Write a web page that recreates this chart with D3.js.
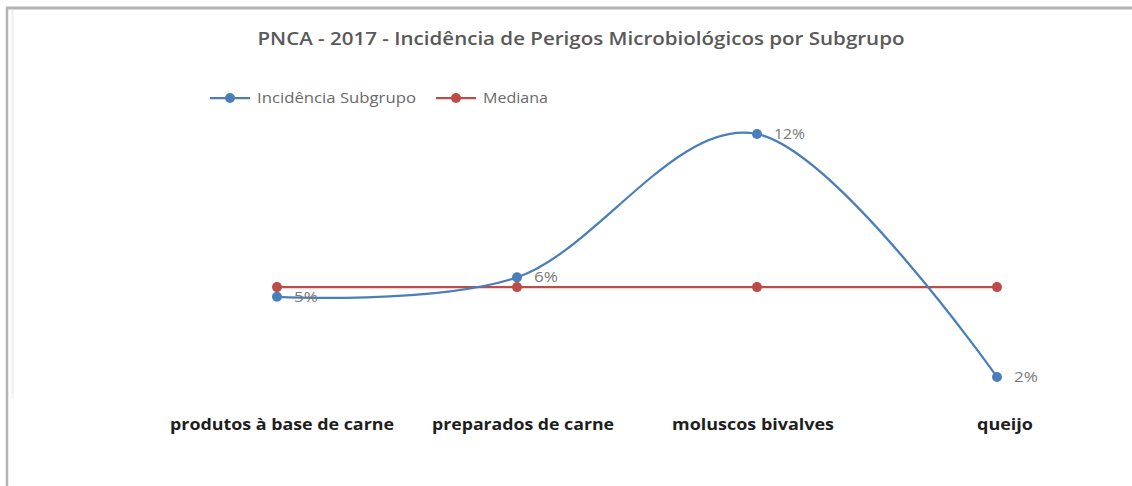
<!DOCTYPE html>
<html><head><meta charset="utf-8">
<script src="https://cdn.jsdelivr.net/npm/d3@7"></script>
<style>html,body{margin:0;padding:0;background:#fff;}</style>
</head><body>
<script>
const categories = ["produtos à base de carne", "preparados de carne", "moluscos bivalves", "queijo"];
const incidencia = [5.3, 6.1, 12.0, 2.0];
const mediana = [5.7, 5.7, 5.7, 5.7];
const seriesNames = ["Incidência Subgrupo", "Mediana"];
const title = "PNCA - 2017 - Incidência de Perigos Microbiológicos por Subgrupo";

const W = 1132, H = 486;
const svg = d3.select("body").append("svg").attr("width", W).attr("height", H);
svg.append("rect").attr("width", W).attr("height", H).attr("fill", "#fff");

// frame
svg.append("line").attr("x1", 6).attr("x2", W).attr("y1", 8).attr("y2", 8).attr("stroke", "#b4b4b4").attr("stroke-width", 3);
svg.append("line").attr("x1", 7).attr("x2", 7).attr("y1", 7).attr("y2", H).attr("stroke", "#b4b4b4").attr("stroke-width", 2.5);
svg.append("line").attr("x1", 12.5).attr("x2", 12.5).attr("y1", 10).attr("y2", 398).attr("stroke", "#f0f0f0").attr("stroke-width", 2);

const font = "'Open Sans', 'Noto Sans', sans-serif";

svg.append("text").attr("x", 581).attr("y", 45).attr("text-anchor", "middle")
  .attr("font-family", font).attr("font-size", 17.5).attr("font-weight", 600).attr("fill", "#595959")
  .attr("textLength", 647).attr("lengthAdjust", "spacingAndGlyphs").text(title);

const x = d3.scalePoint().domain(categories).range([157, 1117]).padding(0.5);
const y = d3.scaleLinear().domain([0, 14]).range([425.6, 85.4]);

const blue = "#4a7ebb", red = "#be4b48";

// median line
svg.append("path").datum(mediana)
  .attr("d", d3.line().x((d, i) => x(categories[i])).y(d => y(d)))
  .attr("fill", "none").attr("stroke", red).attr("stroke-width", 2.25);

// incidence line
svg.append("path").datum(incidencia)
  .attr("d", d3.line().x((d, i) => x(categories[i])).y(d => y(d)).curve(d3.curveCardinal.tension(0)))
  .attr("fill", "none").attr("stroke", blue).attr("stroke-width", 2.25);

svg.selectAll("circle.med").data(mediana).join("circle").attr("class", "med")
  .attr("cx", (d, i) => x(categories[i])).attr("cy", d => y(d)).attr("r", 5).attr("fill", red);
svg.selectAll("circle.inc").data(incidencia).join("circle").attr("class", "inc")
  .attr("cx", (d, i) => x(categories[i])).attr("cy", d => y(d)).attr("r", 5).attr("fill", blue);

const labW = {1: 24, 2: 32};
svg.selectAll("text.lab").data(incidencia).join("text").attr("class", "lab")
  .attr("x", (d, i) => x(categories[i]) + 17).attr("y", d => y(d) + 5)
  .attr("font-family", font).attr("font-size", 14).attr("fill", "#7a7a7a")
  .attr("textLength", d => Math.round(d) >= 10 ? 31 : 24).attr("lengthAdjust", "spacingAndGlyphs")
  .text(d => d3.format(".0f")(d) + "%");

// category labels
const catW = [224, 182, 162, 56];
const catC = [282, 523, 753, 1005];
svg.selectAll("text.cat").data(categories).join("text").attr("class", "cat")
  .attr("x", (d, i) => x(d) + (catC[i] - [277, 517, 757, 997][i])).attr("y", 430).attr("text-anchor", "middle")
  .attr("font-family", font).attr("font-size", 16).attr("font-weight", 700).attr("fill", "#1e1e1e")
  .attr("textLength", (d, i) => catW[i]).attr("lengthAdjust", "spacingAndGlyphs")
  .text(d => d);

// legend
const leg = [{name: seriesNames[0], c: blue, x0: 210, tw: 159}, {name: seriesNames[1], c: red, x0: 436, tw: 65}];
leg.forEach(l => {
  const g = svg.append("g");
  g.append("line").attr("x1", l.x0).attr("x2", l.x0 + 40).attr("y1", 98).attr("y2", 98).attr("stroke", l.c).attr("stroke-width", 2.25);
  g.append("circle").attr("cx", l.x0 + 20).attr("cy", 98).attr("r", 5).attr("fill", l.c);
  g.append("text").attr("x", l.x0 + 47).attr("y", 103).attr("font-family", font).attr("font-size", 14)
    .attr("fill", "#6a6a6a").attr("textLength", l.tw).attr("lengthAdjust", "spacingAndGlyphs").text(l.name);
});
</script>
</body></html>
